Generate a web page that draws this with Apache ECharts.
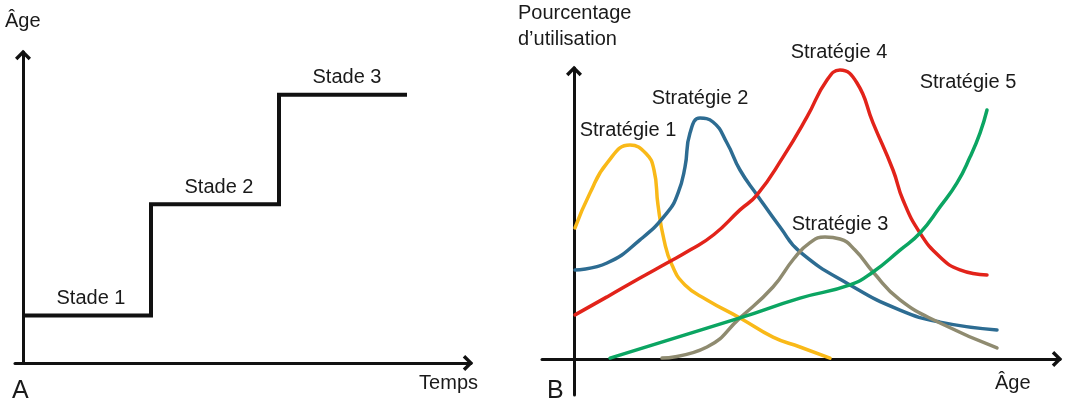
<!DOCTYPE html>
<html>
<head>
<meta charset="utf-8">
<style>
  html, body { margin: 0; padding: 0; background: #fff; }
  #chart { width: 1069px; height: 400px; }
</style>
<script src="https://cdn.jsdelivr.net/npm/echarts@6/dist/echarts.min.js"></script>
</head>
<body>
<div id="chart"></div>
<script>
// A : stades (temps -> âge)
const stageNames = ['Stade 1', 'Stade 2', 'Stade 3']
const stageTimes = [0, 32, 64, 96]
const stageAges = [15, 50, 84.5, 84.5]

// B : stratégies (âge -> pourcentage d'utilisation)
const strategyNames = ['Stratégie 1', 'Stratégie 2', 'Stratégie 3', 'Stratégie 4', 'Stratégie 5']
const s1X = [0.25, 4, 8.25, 14, 18, 20, 21, 22.5, 24.5, 27.75, 33.25, 41.5, 49.75, 56.5, 64]
const s1Y = [43.7, 55.3, 65.3, 71.3, 68.5, 63, 51.3, 39.7, 31.3, 24.7, 19.7, 13.7, 7.3, 4, 0.3]
const s2X = [0.25, 8.25, 16.5, 23.25, 26, 27.75, 29, 31.5, 34.75, 38.25, 41.5, 45.75, 51.5, 56.5, 69, 81.5, 91.5, 105.75]
const s2Y = [29.7, 32, 39.7, 48.7, 55.3, 64, 75.3, 80.3, 79, 72, 63, 54.7, 44, 35.7, 24.7, 16.3, 12.3, 9.7]
const s3X = [22, 33.25, 41.5, 49.75, 55, 59, 62.75, 66.5, 70.25, 74.75, 81.5, 91.5, 105.75]
const s3Y = [0.3, 4, 13.7, 24, 33.5, 38.8, 40.7, 40, 36.3, 29, 19.7, 12, 3.7]
const s4X = [0.25, 8.25, 16.5, 23.25, 29, 35, 41.5, 45.75, 52.25, 58.25, 63.25, 66.5, 70.75, 74.75, 79.75, 82.25, 86.5, 91.5, 96.5, 103.25]
const s4Y = [14.7, 20.7, 27, 32, 36.3, 41.5, 49.7, 54.7, 67.3, 80.7, 93, 96.3, 92, 78.7, 63, 53, 42, 34, 29.7, 28]
const s5X = [9, 41.5, 56.5, 69, 74.75, 81.5, 86.5, 91.5, 95.75, 99, 101.5, 103.25]
const s5Y = [0.3, 13.7, 20.3, 24.7, 29, 36.3, 42, 50.7, 58.7, 67.3, 75.3, 83]
const strategyLabelX = [13.5, 31.5, 66.5, 66.25, 98.5]
const strategyLabelY = [76.3, 87, 44.7, 102.3, 92.3]

const colors = ['#f9b918', '#2d6c92', '#8f8b70', '#e2231a', '#0ba562']
const font = "'Liberation Sans', Arial, sans-serif"
const ink = '#1a1a1a'
const arrow = 'path://M0,10 L10,0 L20,10 L17,13 L10,6 L3,13 Z'

function axisLine(withArrow) {
  return {
    show: true,
    onZero: true,
    symbol: withArrow ? ['none', arrow] : 'none',
    symbolSize: [16, 11],
    symbolOffset: [0, -3],
    lineStyle: { color: '#111', width: 3 }
  }
}

function bareAxis(grid, min, max) {
  return {
    type: 'value',
    gridIndex: grid,
    min: min,
    max: max,
    axisLine: axisLine(true),
    axisTick: { show: false },
    axisLabel: { show: false },
    splitLine: { show: false }
  }
}

function zip(xs, ys) {
  return xs.map((x, i) => [x, ys[i]])
}

const curves = [zip(s1X, s1Y), zip(s2X, s2Y), zip(s3X, s3Y), zip(s4X, s4Y), zip(s5X, s5Y)]

function text(x, y, str, size, align) {
  return {
    type: 'text',
    x: x,
    y: y,
    silent: true,
    style: {
      text: str,
      fill: ink,
      font: size + 'px ' + font,
      align: align || 'left',
      verticalAlign: 'middle'
    }
  }
}

const chart = echarts.init(document.getElementById('chart'))
chart.setOption({
  animation: false,
  backgroundColor: '#fff',
  textStyle: { fontFamily: font },
  grid: [
    { left: 15, top: 52, width: 456, height: 311 },
    { left: 542, top: 68, width: 518, height: 327 }
  ],
  xAxis: [bareAxis(0, -2, 112), bareAxis(1, -8, 121.5)],
  yAxis: [bareAxis(0, 0, 98), bareAxis(1, -12, 97)],
  graphic: [
    text(5, 21, 'Âge', 20),
    text(478, 383, 'Temps', 20, 'right'),
    text(12, 391, 'A', 25),
    text(518, 13, 'Pourcentage', 20),
    text(518, 39, 'd’utilisation', 20),
    text(995, 383, 'Âge', 20),
    text(547, 391, 'B', 25)
  ],
  series: [
    {
      type: 'line',
      xAxisIndex: 0,
      yAxisIndex: 0,
      step: 'end',
      symbol: 'none',
      silent: true,
      data: zip(stageTimes, stageAges),
      lineStyle: { color: '#111', width: 4, join: 'miter', cap: 'butt' }
    },
    {
      type: 'scatter',
      xAxisIndex: 0,
      yAxisIndex: 0,
      symbolSize: 0,
      silent: true,
      itemStyle: { opacity: 1 },
      data: stageNames.map((name, i) => ({
        name: name,
        value: [(stageTimes[i] + stageTimes[i + 1]) / 2 + 1, stageAges[i]]
      })),
      label: { show: true, position: 'top', distance: 7, formatter: '{b}', fontSize: 20, color: ink, opacity: 1 }
    },
    ...curves.map((data, i) => ({
      type: 'line',
      name: strategyNames[i],
      xAxisIndex: 1,
      yAxisIndex: 1,
      smooth: 0.5,
      symbol: 'none',
      silent: true,
      data: data,
      lineStyle: { color: colors[i], width: 3.5, cap: 'round' }
    })),
    {
      type: 'scatter',
      xAxisIndex: 1,
      yAxisIndex: 1,
      symbolSize: 0,
      silent: true,
      clip: false,
      itemStyle: { opacity: 1 },
      data: strategyNames.map((name, i) => ({
        name: name,
        value: [strategyLabelX[i], strategyLabelY[i]]
      })),
      label: { show: true, position: 'inside', formatter: '{b}', fontSize: 20, color: ink, opacity: 1 }
    }
  ]
})
</script>
</body>
</html>
